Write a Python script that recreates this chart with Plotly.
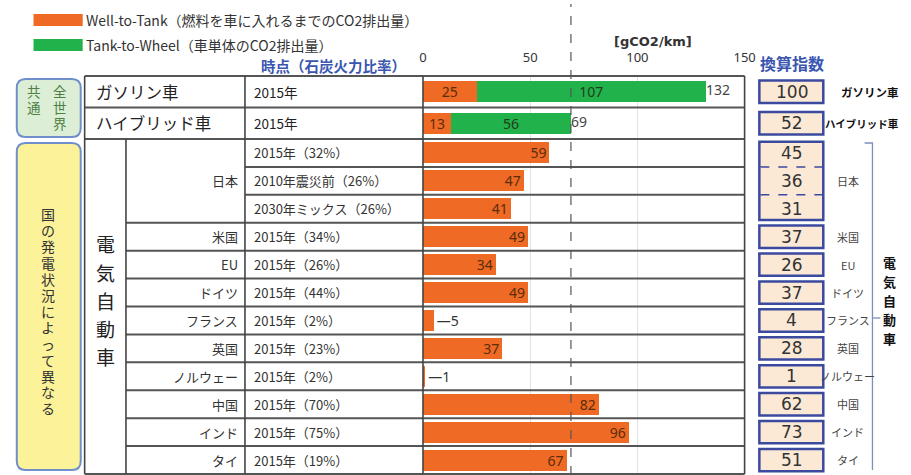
import plotly.graph_objects as go

# ---------------- data ----------------
top_names = ["ガソリン車", "ハイブリッド車"]
top_periods = ["2015年", "2015年"]
top_wtt = [25, 13]
top_ttw = [107, 56]
top_index = [100, 52]

ev_countries = ["日本", "日本", "日本", "米国", "EU", "ドイツ", "フランス", "英国",
                "ノルウェー", "中国", "インド", "タイ"]
ev_periods = ["2015年（32%）", "2010年震災前（26%）", "2030年ミックス（26%）", "2015年（34%）",
              "2015年（26%）", "2015年（44%）", "2015年（2%）", "2015年（23%）",
              "2015年（2%）", "2015年（70%）", "2015年（75%）", "2015年（19%）"]
ev_wtt = [59, 47, 41, 49, 34, 49, 5, 37, 1, 82, 96, 67]
ev_index = [45, 36, 31, 37, 26, 37, 4, 28, 1, 62, 73, 51]

x_ticks = [0, 50, 100, 150]
legend_labels = ["Well-to-Tank（燃料を車に入れるまでのCO2排出量）",
                 "Tank-to-Wheel（車単体のCO2排出量）"]

# ---------------- style ----------------
W, H = 911, 475
ORANGE = "#ef6a24"
GREEN = "#22b24b"
LINE = "#444"
BLUE = "#3a56b0"
JP = "Noto Sans CJK JP"


def px(x):
    return x / W


def py(y):
    return 1 - y / H


ev_keys = [f"{c}｜{p}" for c, p in zip(ev_countries, ev_periods)]

fig = go.Figure()

# top group bars (gasoline / hybrid)
fig.add_trace(go.Bar(
    y=top_names, x=top_wtt, orientation="h", marker=dict(color=ORANGE, line=dict(width=0)),
    width=0.67, text=[str(v) for v in top_wtt], textposition="inside", textangle=0,
    insidetextanchor="middle", textfont=dict(family="Noto Sans", size=14, color="#5a2d0c"),
    xaxis="x", yaxis="y", showlegend=False, hoverinfo="skip"))
fig.add_trace(go.Bar(
    y=top_names, x=top_ttw, orientation="h", marker=dict(color=GREEN, line=dict(width=0)),
    width=0.67, text=[str(v) for v in top_ttw], textposition="inside", textangle=0,
    insidetextanchor="middle", textfont=dict(family="Noto Sans", size=14, color="#243a1c"),
    xaxis="x", yaxis="y", showlegend=False, hoverinfo="skip"))
top_tot = [a + b for a, b in zip(top_wtt, top_ttw)]
fig.add_trace(go.Scatter(
    y=top_names, x=top_tot, mode="text", text=[str(v) for v in top_tot],
    textposition="middle right", textfont=dict(family="Noto Sans", size=14, color="#444"),
    xaxis="x", yaxis="y", showlegend=False, hoverinfo="skip", cliponaxis=False))

# EV bars
fig.add_trace(go.Bar(
    y=ev_keys, x=ev_wtt, orientation="h", marker=dict(color=ORANGE, line=dict(width=0)),
    width=0.75, textangle=0,
    text=[str(v) if v >= 10 else "—" + str(v) for v in ev_wtt],
    textposition=["inside" if v >= 10 else "outside" for v in ev_wtt],
    insidetextanchor="end",
    insidetextfont=dict(family="Noto Sans", size=14, color="#5a2d0c"),
    outsidetextfont=dict(family="Noto Sans", size=14, color="#333"),
    xaxis="x2", yaxis="y2", showlegend=False, hoverinfo="skip", cliponaxis=False))

x_dom = [px(426), px(753)]
axis_common = dict(range=[0, 150], domain=x_dom, tickvals=x_ticks, showgrid=True,
                   gridcolor="#e2e2e2", gridwidth=1, zeroline=False, showline=False,
                   fixedrange=True)
fig.update_layout(
    width=W, height=H, autosize=False,
    margin=dict(l=0, r=0, t=0, b=0),
    paper_bgcolor="white", plot_bgcolor="white",
    barmode="stack",
    uniformtext=dict(minsize=14, mode="show"),
    font=dict(family=JP, color="#333"),
    xaxis=dict(**axis_common, side="top", anchor="y", ticks="",
               tickfont=dict(family="Noto Sans", size=13, color="#333"),
               ticklabelstandoff=10),
    xaxis2=dict(**axis_common, anchor="y2", matches="x", showticklabels=False),
    yaxis=dict(domain=[py(139), py(76)], autorange="reversed", showticklabels=False,
               showgrid=False, zeroline=False, fixedrange=True),
    yaxis2=dict(domain=[py(474), py(139)], autorange="reversed", showticklabels=False,
                showgrid=False, zeroline=False, fixedrange=True),
)

shapes = []
annots = []


def ann(text, x, y, xref="paper", yref="paper", xanchor="center", size=12, color="#333",
        family=JP):
    annots.append(dict(text=text, xref=xref, yref=yref, x=x, y=y, xanchor=xanchor,
                       yanchor="middle", showarrow=False,
                       font=dict(family=family, size=size, color=color)))


def hline(x0, x1, yref, y, width=2, color="#555"):
    shapes.append(dict(type="line", xref="paper", x0=px(x0), x1=px(x1), yref=yref,
                       y0=y, y1=y, line=dict(color=color, width=width), layer="above"))


def vline(x, y0, y1, width=1.6, color=LINE):
    shapes.append(dict(type="line", xref="paper", x0=px(x), x1=px(x), yref="paper",
                       y0=py(y0), y1=py(y1), line=dict(color=color, width=width), layer="above"))


# ---- table grid ----
hline(82, 753, "paper", py(76))
for i in range(len(top_names) - 1):
    hline(82, 753, "y", i + 0.5)
hline(82, 753, "paper", py(139))
for i in range(len(ev_keys) - 1):
    same = ev_countries[i] == ev_countries[i + 1]
    hline(245 if same else 124, 753, "y2", i + 0.5)
hline(82, 753, "paper", py(474))
for xv in (82, 245, 426, 753):
    vline(xv, 76, 474)
vline(124, 139, 474)

# dashed reference line at hybrid total
shapes.append(dict(type="line", xref="x", x0=top_tot[1], x1=top_tot[1], yref="paper",
                   y0=0, y1=py(4), line=dict(color="#555", width=1.2, dash="dash"),
                   layer="above"))

# ---- legend ----
leg_cols = [ORANGE, GREEN]
for k, (lab, col) in enumerate(zip(legend_labels, leg_cols)):
    yc = 20 + 25 * k
    shapes.append(dict(type="rect", xref="paper", yref="paper", x0=px(30), x1=px(80),
                       y0=py(yc + 6), y1=py(yc - 6), fillcolor=col, line=dict(width=0)))
    ann(lab, px(81), py(yc), xanchor="left", size=14, color="#333")

ann("<b>[gCO2/km]</b>", px(660), py(41), size=13, family="DejaVu Sans")
ann("<b>時点（石炭火力比率）</b>", px(335), py(66), size=14.5, color=BLUE)
ann("<b>換算指数</b>", px(801), py(63), size=16, color=BLUE)

# ---- row texts ----
for n, p in zip(top_names, top_periods):
    ann(n, px(91), n, yref="y", xanchor="left", size=16.5, color="#222")
    ann(p, px(252), n, yref="y", xanchor="left", size=13.5, color="#222")

# country groups
groups = []
for i, c in enumerate(ev_countries):
    if groups and groups[-1][0] == c:
        groups[-1][1].append(i)
    else:
        groups.append((c, [i]))

for c, idx in groups:
    ann(c, px(240), sum(idx) / len(idx), yref="y2", xanchor="right", size=13, color="#333")
for k, p in zip(ev_keys, ev_periods):
    ann(p, px(252), k, yref="y2", xanchor="left", size=13, color="#333")


def vtext(s, x, y_first, step, size, color, bold=False):
    for j, ch in enumerate(s):
        t = f"<b>{ch}</b>" if bold else ch
        ann(t, px(x), py(y_first + step * j), size=size, color=color)


vtext("電気自動車", 103, 244, 28, 19, "#222")


# ---- left rounded boxes ----
def rrect(x0, y0, x1, y1, r, fill, line_col, lw):
    path = (f"M {px(x0 + r)} {py(y0)} L {px(x1 - r)} {py(y0)} "
            f"Q {px(x1)} {py(y0)} {px(x1)} {py(y0 + r)} L {px(x1)} {py(y1 - r)} "
            f"Q {px(x1)} {py(y1)} {px(x1 - r)} {py(y1)} L {px(x0 + r)} {py(y1)} "
            f"Q {px(x0)} {py(y1)} {px(x0)} {py(y1 - r)} L {px(x0)} {py(y0 + r)} "
            f"Q {px(x0)} {py(y0)} {px(x0 + r)} {py(y0)} Z")
    shapes.append(dict(type="path", xref="paper", yref="paper", path=path, fillcolor=fill,
                       line=dict(color=line_col, width=lw), layer="below"))


rrect(13, 79, 78, 137, 9, "#dcefd6", "#6f8fca", 2)
rrect(13, 143, 78, 470, 9, "#fbf29a", "#6f8fca", 2)
vtext("全世界", 57, 91, 16, 13.5, "#4e8044")
vtext("共通", 31, 91, 16, 13.5, "#4e8044")
vtext("国の発電状況によって異なる", 45, 214, 16.2, 14, "#333")

# ---- right index boxes ----
BOX_FILL = "#fbe9d6"
BOX_LINE = "#3b4a9e"
right_x = [880, 872]
right_size = [11.5, 10.5]
for i, v in enumerate(top_index):
    shapes.append(dict(type="rect", xref="paper", yref="y", x0=px(768), x1=px(833),
                       y0=i - 0.36, y1=i + 0.36, fillcolor=BOX_FILL,
                       line=dict(color=BOX_LINE, width=2.5)))
    ann(str(v), px(801), i, yref="y", size=17, color="#333", family="DejaVu Sans")
    ann(f"<b>{top_names[i]}</b>", px(right_x[i]), i, yref="y", size=right_size[i], color="#111")

for c, idx in groups:
    shapes.append(dict(type="rect", xref="paper", yref="y2", x0=px(768), x1=px(833),
                       y0=idx[0] - 0.4, y1=idx[-1] + 0.4, fillcolor=BOX_FILL,
                       line=dict(color=BOX_LINE, width=2.5)))
    for a, b in zip(idx[:-1], idx[1:]):
        shapes.append(dict(type="line", xref="paper", yref="y2", x0=px(769), x1=px(832),
                           y0=(a + b) / 2, y1=(a + b) / 2,
                           line=dict(color=BOX_LINE, width=1.5, dash="dash")))
    ann(c, px(858), sum(idx) / len(idx), yref="y2", size=11, color="#444")
for i, v in enumerate(ev_index):
    ann(str(v), px(801), i, yref="y2", size=17, color="#333", family="DejaVu Sans")

# bracket
BR = "#7d8fb8"
shapes.append(dict(type="path", xref="paper", yref="paper",
                   path=f"M {px(875)} {py(143)} L {px(883)} {py(143)} L {px(883)} {py(470)}",
                   line=dict(color=BR, width=1.3)))
shapes.append(dict(type="line", xref="paper", yref="paper", x0=px(883), x1=px(891),
                   y0=py(318), y1=py(318), line=dict(color=BR, width=1.3)))
vtext("電気自動車", 900, 262, 19, 13, "#111", bold=True)

fig.update_layout(shapes=shapes, annotations=annots)
fig.write_html("out.html", config={"displayModeBar": False},
               post_script="document.body.style.margin='0px';")
